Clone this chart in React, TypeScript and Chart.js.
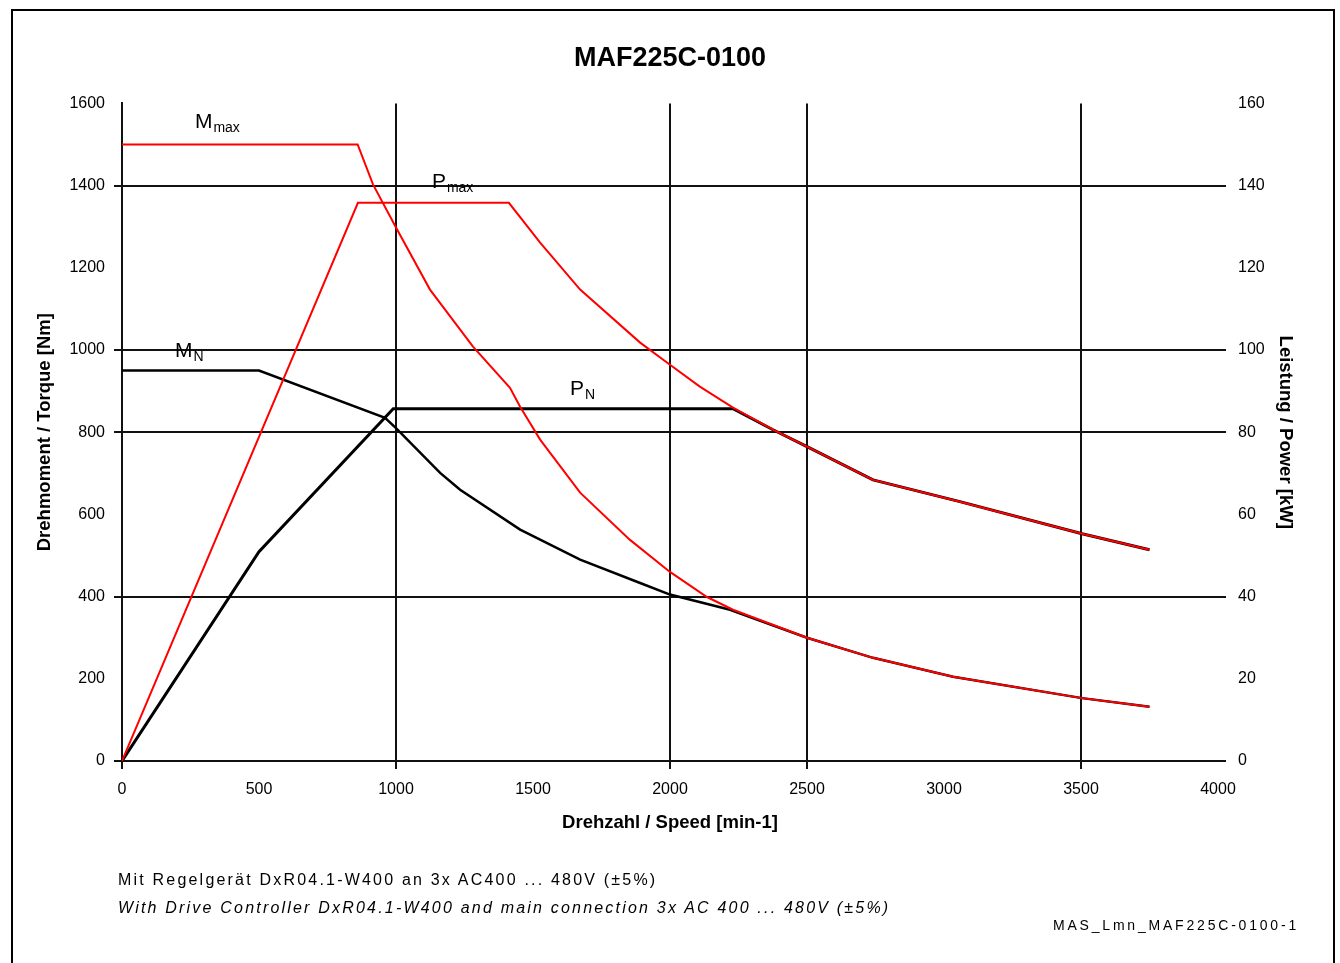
import React, { useEffect, useRef } from "react";
import { Chart, registerables } from "chart.js";

Chart.register(...registerables);

// ---- texts ----
const chartTitle = "MAF225C-0100";
const xAxisTitle = "Drehzahl / Speed [min-1]";
const yAxisTitle = "Drehmoment / Torque [Nm]";
const y1AxisTitle = "Leistung / Power [kW]";
const footnoteDe = "Mit Regelgerät DxR04.1-W400 an 3x AC400 ... 480V (±5%)";
const footnoteEn = "With Drive Controller DxR04.1-W400 and main connection 3x AC 400 ... 480V (±5%)";
const docId = "MAS_Lmn_MAF225C-0100-1";

// ---- axes ----
const speedMin = 0;
const speedMax = 4000;
const speedStep = 500;
const torqueMin = 0;
const torqueMax = 1600;
const torqueStep = 200;
const powerMin = 0;
const powerMax = 160;
const powerStep = 20;
const speedGridShown = [0, 1000, 2000, 2500, 3500];
const torqueGridShown = [0, 400, 800, 1000, 1400];
const powerGridShown = [0, 40, 80, 100, 140];

// ---- series: M max (Nm) ----
const mmaxSpeed = [0, 860, 916, 1000, 1124, 1281, 1416, 1453, 1526, 1672, 1854, 2000, 2135, 2230, 2500, 2741, 3033, 3504, 3750];
const mmaxTorque = [1500, 1500, 1403, 1298, 1147, 1008, 908, 862, 782, 653, 538, 460, 399, 368, 300, 251, 205, 153, 132];

// ---- series: M N (Nm) ----
const mnSpeed = [0, 500, 960, 1000, 1161, 1234, 1453, 1672, 1891, 2000, 2219, 2500, 2741, 3033, 3504, 3750];
const mnTorque = [950, 950, 835, 810, 701, 660, 563, 490, 433, 405, 368, 300, 251, 205, 153, 132];

// ---- series: P max (kW) ----
const pmaxSpeed = [0, 861, 1412, 1526, 1672, 1891, 2000, 2109, 2230, 2376, 2500, 2741, 3058, 3504, 3750];
const pmaxPower = [0, 135.8, 135.8, 126.1, 114.7, 101.8, 96.4, 91.1, 86.0, 80.6, 76.5, 68.4, 63.1, 55.3, 51.4];

// ---- series: P N (kW) ----
const pnSpeed = [0, 500, 990, 2230, 2376, 2500, 2741, 3058, 3504, 3750];
const pnPower = [0, 50.9, 85.7, 85.7, 80.6, 76.5, 68.4, 63.1, 55.3, 51.4];

// ---- curve labels (anchored in data units: speed / torque) ----
const labelMain = ["M", "P", "M", "P"];
const labelSub = ["max", "max", "N", "N"];
const labelSpeed = [266, 1131, 193, 1635];
const labelTorque = [1540, 1393, 984, 891];

const FONT = '"Liberation Sans", Arial, Helvetica, sans-serif';

const toPoints = (xs: number[], ys: number[]) => xs.map((x, i) => ({ x, y: ys[i] }));

const curveLabelPlugin = {
  id: "curveLabels",
  afterDatasetsDraw(chart: any) {
    const { ctx, scales } = chart;
    ctx.save();
    ctx.fillStyle = "#000";
    ctx.textBaseline = "alphabetic";
    ctx.textAlign = "left";
    for (let i = 0; i < labelMain.length; i++) {
      const px = scales.x.getPixelForValue(labelSpeed[i]);
      const py = scales.y.getPixelForValue(labelTorque[i]);
      ctx.font = `21px ${FONT}`;
      ctx.fillText(labelMain[i], px, py);
      const w = ctx.measureText(labelMain[i]).width;
      ctx.font = `14px ${FONT}`;
      ctx.fillText(labelSub[i], px + w + 1, py + 4);
    }
    ctx.restore();
  },
};

function gridColor(shown: number[]) {
  return (c: any) => (c.tick && shown.includes(c.tick.value) ? "#111" : "rgba(0,0,0,0)");
}

const plainTick = (v: any) => String(v);

export default function App() {
  const canvasRef = useRef<HTMLCanvasElement | null>(null);

  useEffect(() => {
    if (!canvasRef.current) return;
    const chart = new Chart(canvasRef.current, {
      type: "line",
      data: {
        datasets: [
          {
            label: "Mmax",
            data: toPoints(mmaxSpeed, mmaxTorque),
            borderColor: "#ff0000",
            borderWidth: 2,
            pointRadius: 0,
            tension: 0,
            yAxisID: "y",
            order: 0,
          },
          {
            label: "Pmax",
            data: toPoints(pmaxSpeed, pmaxPower),
            borderColor: "#ff0000",
            borderWidth: 2,
            pointRadius: 0,
            tension: 0,
            yAxisID: "y1",
            order: 0,
          },
          {
            label: "MN",
            data: toPoints(mnSpeed, mnTorque),
            borderColor: "#000",
            borderWidth: 2.5,
            pointRadius: 0,
            tension: 0,
            yAxisID: "y",
            order: 1,
          },
          {
            label: "PN",
            data: toPoints(pnSpeed, pnPower),
            borderColor: "#000",
            borderWidth: 3,
            pointRadius: 0,
            tension: 0,
            yAxisID: "y1",
            order: 1,
          },
        ],
      },
      options: {
        responsive: false,
        animation: false,
        devicePixelRatio: 1,
        layout: { padding: 0 },
        plugins: {
          legend: { display: false },
          tooltip: { enabled: false },
          title: {
            display: true,
            text: chartTitle,
            color: "#000",
            font: { family: FONT, size: 27, weight: "bold" },
            padding: { top: 42, bottom: 29 },
          },
        },
        scales: {
          x: {
            type: "linear",
            min: speedMin,
            max: speedMax,
            afterFit: (s: any) => {
              s.height = 80;
            },
            ticks: {
              stepSize: speedStep,
              color: "#000",
              font: { family: FONT, size: 16 },
              padding: 11,
              maxRotation: 0,
              callback: plainTick,
            },
            grid: {
              color: gridColor(speedGridShown),
              lineWidth: 2,
              tickLength: 8,
            },
            border: { display: true, color: "#111", width: 2 },
            title: {
              display: true,
              text: xAxisTitle,
              color: "#000",
              font: { family: FONT, size: 18.5, weight: "bold" },
              padding: { top: 0, bottom: 7 },
            },
          },
          y: {
            type: "linear",
            position: "left",
            min: torqueMin,
            max: torqueMax,
            afterFit: (s: any) => {
              s.width = 122;
            },
            ticks: {
              stepSize: torqueStep,
              color: "#000",
              font: { family: FONT, size: 16 },
              padding: 9,
              callback: plainTick,
            },
            grid: {
              color: gridColor(torqueGridShown),
              lineWidth: 2,
              tickLength: 8,
            },
            border: { display: true, color: "#111", width: 2 },
            title: {
              display: true,
              text: yAxisTitle,
              color: "#000",
              font: { family: FONT, size: 18.5, weight: "bold" },
              padding: { top: 34, bottom: 0 },
            },
          },
          y1: {
            type: "linear",
            position: "right",
            min: powerMin,
            max: powerMax,
            afterFit: (s: any) => {
              s.width = 122;
            },
            ticks: {
              stepSize: powerStep,
              color: "#000",
              font: { family: FONT, size: 16 },
              padding: 12,
              callback: plainTick,
            },
            grid: {
              color: gridColor(powerGridShown),
              lineWidth: 2,
              tickLength: 8,
              drawOnChartArea: false,
            },
            border: { display: false },
            title: {
              display: true,
              text: y1AxisTitle,
              color: "#000",
              font: { family: FONT, size: 18.5, weight: "bold" },
              padding: { top: 44, bottom: 0 },
            },
          },
        },
      },
      plugins: [curveLabelPlugin],
    } as any);
    return () => chart.destroy();
  }, []);

  return (
    <div
      style={{
        position: "absolute",
        left: 0,
        top: 0,
        width: 1340,
        height: 963,
        overflow: "hidden",
        background: "#fff",
        fontFamily: FONT,
        color: "#000",
      }}
    >
      <canvas
        ref={canvasRef}
        width={1340}
        height={841}
        style={{ position: "absolute", left: 0, top: 0, width: 1340, height: 841 }}
      />
      <div
        style={{
          position: "absolute",
          left: 11,
          top: 9,
          width: 1320,
          height: 960,
          borderTop: "2px solid #000",
          borderLeft: "2px solid #000",
          borderRight: "2px solid #000",
          pointerEvents: "none",
        }}
      />
      <div
        style={{
          position: "absolute",
          left: 118,
          top: 870,
          fontSize: 16,
          lineHeight: "20px",
          letterSpacing: "2.2px",
          whiteSpace: "nowrap",
        }}
      >
        {footnoteDe}
      </div>
      <div
        style={{
          position: "absolute",
          left: 118,
          top: 898,
          fontSize: 16,
          lineHeight: "20px",
          letterSpacing: "2.2px",
          fontStyle: "italic",
          whiteSpace: "nowrap",
        }}
      >
        {footnoteEn}
      </div>
      <div
        style={{
          position: "absolute",
          right: 1340 - 1299,
          top: 916,
          fontSize: 14,
          lineHeight: "18px",
          letterSpacing: "2.8px",
          whiteSpace: "nowrap",
        }}
      >
        {docId}
      </div>
    </div>
  );
}
